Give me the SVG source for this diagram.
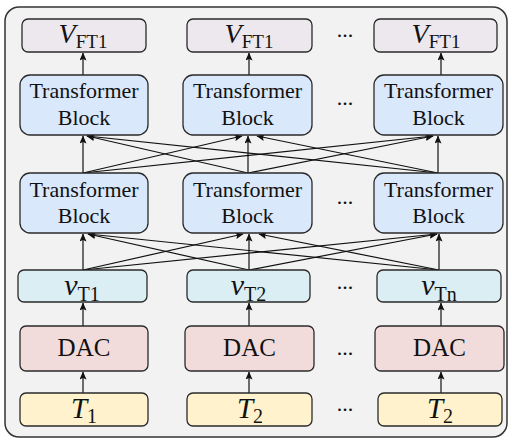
<svg xmlns="http://www.w3.org/2000/svg" width="512" height="442" viewBox="0 0 512 442">
  <style>
    .frame { fill: #F2F2F2; stroke: #333; stroke-width: 1.5; }
    .box { stroke: #2a2a2a; stroke-width: 1.3; }
    .out { fill: #ECE8EE; }
    .tb { fill: #DAE8FC; }
    .emb { fill: #DAEEF3; }
    .dac { fill: #F2DCDB; }
    .inp { fill: #FFF2CC; }
    text { font-family: "Liberation Serif", "Times New Roman", serif; fill: #111; text-anchor: middle; }
    .lbl { font-size: 22px; }
    .dac-t { font-size: 25px; }
    .it { font-style: italic; }
    .dots { font-size: 22px; }
    .edge { stroke: #111; stroke-width: 1.2; fill: none; marker-end: url(#arr); }
  </style>
  <defs>
    <marker id="arr" markerUnits="userSpaceOnUse" markerWidth="8" markerHeight="7" refX="7.5" refY="3.5" orient="auto">
      <path d="M0,0 L8,3.5 L0,7 L1.5,3.5 z" fill="#111"/>
    </marker>
  </defs>

  <!-- outer panel -->
  <rect class="frame" x="5" y="7" width="502" height="430" rx="14"/>

  <!-- connectors -->
  <g id="connectors">
    <!-- inputs to DAC -->
    <line class="edge" x1="83" y1="393" x2="83" y2="372"/>
    <line class="edge" x1="249" y1="393" x2="249" y2="372"/>
    <line class="edge" x1="441" y1="393" x2="441" y2="372"/>
    <!-- DAC to embeddings -->
    <line class="edge" x1="83" y1="326" x2="83" y2="303"/>
    <line class="edge" x1="249" y1="326" x2="249" y2="303"/>
    <line class="edge" x1="441" y1="326" x2="441" y2="303"/>
    <!-- embeddings to first transformer layer (all-to-all) -->
    <line class="edge" x1="83" y1="270" x2="83" y2="234"/>
    <line class="edge" x1="83" y1="270" x2="243" y2="234"/>
    <line class="edge" x1="83" y1="270" x2="437" y2="234"/>
    <line class="edge" x1="249" y1="270" x2="88" y2="234"/>
    <line class="edge" x1="249" y1="270" x2="249" y2="234"/>
    <line class="edge" x1="249" y1="270" x2="437" y2="234"/>
    <line class="edge" x1="439" y1="270" x2="88" y2="234"/>
    <line class="edge" x1="439" y1="270" x2="259" y2="234"/>
    <line class="edge" x1="439" y1="270" x2="439" y2="234"/>
    <!-- first to second transformer layer (all-to-all) -->
    <line class="edge" x1="83" y1="173" x2="83" y2="136"/>
    <line class="edge" x1="83" y1="173" x2="242" y2="136"/>
    <line class="edge" x1="83" y1="173" x2="433" y2="136"/>
    <line class="edge" x1="248" y1="173" x2="87" y2="136"/>
    <line class="edge" x1="248" y1="173" x2="248" y2="136"/>
    <line class="edge" x1="248" y1="173" x2="433" y2="136"/>
    <line class="edge" x1="438" y1="173" x2="87" y2="136"/>
    <line class="edge" x1="438" y1="173" x2="257" y2="136"/>
    <line class="edge" x1="438" y1="173" x2="438" y2="136"/>
    <!-- second transformer layer to outputs -->
    <line class="edge" x1="83" y1="75" x2="83" y2="53"/>
    <line class="edge" x1="249" y1="75" x2="249" y2="53"/>
    <line class="edge" x1="441" y1="75" x2="441" y2="53"/>
  </g>

  <!-- outputs -->
  <g id="out1">
    <rect class="box out" x="22" y="19" width="124" height="33" rx="6"/>
    <text x="83" y="43"><tspan class="it" font-size="28">V</tspan><tspan dy="5" font-size="19">FT1</tspan></text>
  </g>
  <g id="out2">
    <rect class="box out" x="187" y="19" width="125" height="33" rx="6"/>
    <text x="249" y="43"><tspan class="it" font-size="28">V</tspan><tspan dy="5" font-size="19">FT1</tspan></text>
  </g>
  <g id="out3">
    <rect class="box out" x="374" y="19" width="123" height="33" rx="6"/>
    <text x="436" y="43"><tspan class="it" font-size="28">V</tspan><tspan dy="5" font-size="19">FT1</tspan></text>
  </g>

  <!-- second transformer layer -->
  <g id="tb2-1">
    <rect class="box tb" x="20" y="75" width="128" height="60" rx="10"/>
    <text class="lbl" x="84" y="98">Transformer</text>
    <text class="lbl" x="84" y="125">Block</text>
  </g>
  <g id="tb2-2">
    <rect class="box tb" x="183" y="75" width="129" height="60" rx="10"/>
    <text class="lbl" x="247.5" y="98">Transformer</text>
    <text class="lbl" x="247.5" y="125">Block</text>
  </g>
  <g id="tb2-3">
    <rect class="box tb" x="374" y="75" width="129" height="60" rx="10"/>
    <text class="lbl" x="438.5" y="98">Transformer</text>
    <text class="lbl" x="438.5" y="125">Block</text>
  </g>

  <!-- first transformer layer -->
  <g id="tb1-1">
    <rect class="box tb" x="20" y="173" width="128" height="60" rx="10"/>
    <text class="lbl" x="84" y="197">Transformer</text>
    <text class="lbl" x="84" y="223">Block</text>
  </g>
  <g id="tb1-2">
    <rect class="box tb" x="183" y="173" width="129" height="60" rx="10"/>
    <text class="lbl" x="247.5" y="197">Transformer</text>
    <text class="lbl" x="247.5" y="223">Block</text>
  </g>
  <g id="tb1-3">
    <rect class="box tb" x="374" y="173" width="129" height="60" rx="10"/>
    <text class="lbl" x="438.5" y="197">Transformer</text>
    <text class="lbl" x="438.5" y="223">Block</text>
  </g>

  <!-- embeddings -->
  <g id="emb1">
    <rect class="box emb" x="18" y="270" width="129" height="32" rx="6"/>
    <text x="82" y="295"><tspan class="it" font-size="30">v</tspan><tspan dy="6" font-size="20">T1</tspan></text>
  </g>
  <g id="emb2">
    <rect class="box emb" x="187" y="270" width="123" height="32" rx="6"/>
    <text x="248.5" y="295"><tspan class="it" font-size="30">v</tspan><tspan dy="6" font-size="20">T2</tspan></text>
  </g>
  <g id="emb3">
    <rect class="box emb" x="377" y="270" width="124" height="32" rx="6"/>
    <text x="439" y="295"><tspan class="it" font-size="30">v</tspan><tspan dy="6" font-size="20">Tn</tspan></text>
  </g>

  <!-- DAC encoders -->
  <g id="dac1">
    <rect class="box dac" x="20" y="326" width="128" height="45" rx="6"/>
    <text class="dac-t" x="84" y="356">DAC</text>
  </g>
  <g id="dac2">
    <rect class="box dac" x="185" y="326" width="129" height="45" rx="6"/>
    <text class="dac-t" x="249.5" y="356">DAC</text>
  </g>
  <g id="dac3">
    <rect class="box dac" x="375" y="326" width="129" height="45" rx="6"/>
    <text class="dac-t" x="439.5" y="356">DAC</text>
  </g>

  <!-- inputs -->
  <g id="in1">
    <rect class="box inp" x="20" y="393" width="128" height="33" rx="6"/>
    <text x="84" y="418"><tspan class="it" font-size="29">T</tspan><tspan dy="5" font-size="20">1</tspan></text>
  </g>
  <g id="in2">
    <rect class="box inp" x="187" y="393" width="125" height="33" rx="6"/>
    <text x="250" y="418"><tspan class="it" font-size="29">T</tspan><tspan dy="5" font-size="20">2</tspan></text>
  </g>
  <g id="in3">
    <rect class="box inp" x="378" y="393" width="124" height="33" rx="6"/>
    <text x="440" y="418"><tspan class="it" font-size="29">T</tspan><tspan dy="5" font-size="20">2</tspan></text>
  </g>

  <!-- ellipses between columns -->
  <g id="ellipses">
    <text class="dots" x="345" y="37">...</text>
    <text class="dots" x="345" y="105">...</text>
    <text class="dots" x="345" y="204">...</text>
    <text class="dots" x="345" y="289">...</text>
    <text class="dots" x="345" y="355">...</text>
    <text class="dots" x="345" y="411">...</text>
  </g>
</svg>
